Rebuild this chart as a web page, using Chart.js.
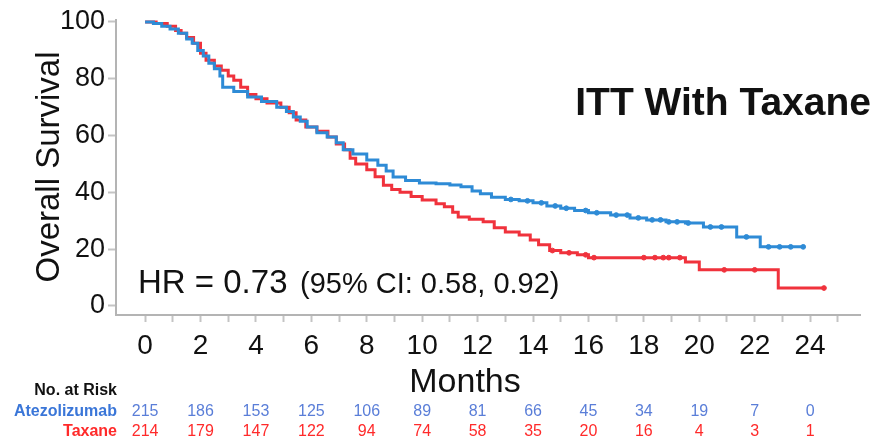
<!DOCTYPE html>
<html>
<head>
<meta charset="utf-8">
<script src="https://cdn.jsdelivr.net/npm/chart.js@4.4.1/dist/chart.umd.min.js"></script>
<style>
  body { margin: 0; background: #ffffff; }
  #wrap { width: 877px; height: 438px; }
</style>
</head>
<body>
<div id="wrap"><canvas id="graficoSobrevida" width="877" height="438"></canvas></div>
<script>
// Kaplan-Meier steps (months, % surviving)
var atezoMonths = [0, 0.3, 0.6, 0.9, 1.2, 1.5, 1.7, 1.9, 2.1, 2.3, 2.5, 2.7, 2.8, 3.2, 3.7, 4.2, 4.75, 5.1, 5.35, 5.6, 5.85, 6.2, 6.57, 6.9, 7.15, 7.5, 8.0, 8.4, 8.7, 8.95, 9.4, 9.9, 10.5, 11.0, 11.4, 11.8, 12.1, 12.5, 13.0, 13.5, 14.0, 14.5, 15.0, 15.5, 16.0, 16.8, 17.5, 18.1, 18.8, 19.5, 20.15, 21.35, 22.2, 23.75];
var atezoSurv = [100, 99.5, 98.5, 97.5, 96, 94, 92.5, 90, 88, 85.5, 83.5, 81, 77, 75.5, 73.6, 72, 70, 68.5, 66.5, 65, 63, 61, 59.5, 57.5, 55, 53.5, 51.4, 49.5, 47.5, 45.4, 44.2, 43.3, 43, 42.6, 42, 40.5, 39.5, 38.3, 37.5, 37, 36.3, 35.2, 34.4, 33.6, 32.8, 32, 31, 30.3, 29.6, 29.2, 27.8, 24.3, 20.8, 20.8];
var atezoCensored = [13.2, 13.8, 14.3, 14.8, 15.2, 15.9, 16.3, 17.0, 17.4, 17.8, 18.3, 18.6, 18.9, 19.2, 19.6, 20.4, 20.8, 21.7, 22.5, 22.9, 23.3, 23.75];

var taxaneMonths = [0, 0.4, 0.8, 1.1, 1.3, 1.5, 1.75, 2.0, 2.2, 2.5, 2.75, 3.0, 3.2, 3.45, 3.7, 4.0, 4.4, 4.9, 5.2, 5.45, 5.8, 6.2, 6.6, 6.9, 7.2, 7.4, 7.6, 8.0, 8.3, 8.6, 8.9, 9.2, 9.6, 10.0, 10.5, 10.8, 11.1, 11.3, 11.7, 12.2, 12.6, 13.0, 13.5, 13.9, 14.2, 14.6, 15.0, 15.6, 16.0, 19.5, 20.0, 22.85, 24.5];
var taxaneSurv = [100, 99.5, 98.5, 97, 96, 94.5, 92.5, 89, 86.5, 84.5, 83, 81, 79.5, 77, 74.5, 73, 71.5, 70, 68, 65.5, 63, 61.5, 59.5, 57, 55, 52, 50, 48, 45.5, 42.5, 41, 40, 38.5, 37.3, 36, 34.9, 33, 31.3, 30.5, 29.6, 27.5, 26, 25, 23.2, 21.5, 19.5, 18.7, 18, 17, 15.5, 12.7, 6.3, 6.3];
var taxaneCensored = [14.7, 15.3, 15.9, 16.2, 18.0, 18.4, 18.7, 18.9, 19.3, 20.9, 22.0, 24.5];

var xTickLabels = ['0', '2', '4', '6', '8', '10', '12', '14', '16', '18', '20', '22', '24'];
var yTickValues = [0, 20, 40, 60, 80, 100];

var riskMonths = [0, 2, 4, 6, 8, 10, 12, 14, 16, 18, 20, 22, 24];
var riskAtezo = [215, 186, 153, 125, 106, 89, 81, 66, 45, 34, 19, 7, 0];
var riskTaxane = [214, 179, 147, 122, 94, 74, 58, 35, 20, 16, 4, 3, 1];

var corAtezo = '#2e8bd6';
var corTaxane = '#f0323c';

function montarPontos(meses, valores) {
    var pontos = [];
    for (var i = 0; i < meses.length; i++) {
        pontos.push({ x: meses[i], y: valores[i] });
    }
    return pontos;
}

// value of the step curve at a censoring time
function valorNaCurva(meses, valores, t) {
    var v = valores[0];
    for (var i = 0; i < meses.length; i++) {
        if (meses[i] <= t) v = valores[i];
    }
    return v;
}

function montarCensuras(meses, valores, censuras) {
    var pontos = [];
    for (var i = 0; i < censuras.length; i++) {
        pontos.push({ x: censuras[i], y: valorNaCurva(meses, valores, censuras[i]) });
    }
    return pontos;
}

var fonte = '"Liberation Sans", Arial, sans-serif';

var textosPlugin = {
    id: 'textos',
    afterDraw: function (chart) {
        var ctx = chart.ctx;
        var xs = chart.scales.x;
        ctx.save();
        ctx.fillStyle = '#111111';
        ctx.textBaseline = 'alphabetic';

        ctx.font = 'bold 39px ' + fonte;
        ctx.textAlign = 'right';
        ctx.fillText('ITT With Taxane', 871, 115);

        ctx.textAlign = 'left';
        ctx.font = '33px ' + fonte;
        ctx.fillText('HR = 0.73', 138, 293);
        ctx.font = '29px ' + fonte;
        ctx.fillText('(95% CI: 0.58, 0.92)', 300, 293);

        ctx.textAlign = 'center';
        ctx.font = '34px ' + fonte;
        ctx.fillText('Months', 465, 392);

        ctx.save();
        ctx.translate(59, 167);
        ctx.rotate(-Math.PI / 2);
        ctx.font = '33px ' + fonte;
        ctx.fillText('Overall Survival', 0, 0);
        ctx.restore();

        ctx.font = 'bold 16px ' + fonte;
        ctx.textAlign = 'right';
        ctx.fillStyle = '#111111';
        ctx.fillText('No. at Risk', 117, 395);
        ctx.fillStyle = '#3a76d8';
        ctx.fillText('Atezolizumab', 117, 416);
        ctx.fillStyle = '#ff2a2a';
        ctx.fillText('Taxane', 117, 436);

        ctx.font = '16px ' + fonte;
        ctx.textAlign = 'center';
        for (var i = 0; i < riskMonths.length; i++) {
            var px = xs.getPixelForValue(riskMonths[i]);
            ctx.fillStyle = '#5a7ed8';
            ctx.fillText(String(riskAtezo[i]), px, 416);
            ctx.fillStyle = '#ff2a2a';
            ctx.fillText(String(riskTaxane[i]), px, 436);
        }
        ctx.restore();
    }
};

var ctx = document.getElementById('graficoSobrevida');
var grafico = new Chart(ctx, {
    type: 'line',
    data: {
        datasets: [
            {
                label: 'Atezolizumab',
                data: montarPontos(atezoMonths, atezoSurv),
                borderColor: corAtezo,
                borderWidth: 3,
                stepped: true,
                pointRadius: 0,
                fill: false
            },
            {
                label: 'Taxane',
                data: montarPontos(taxaneMonths, taxaneSurv),
                borderColor: corTaxane,
                borderWidth: 3,
                stepped: true,
                pointRadius: 0,
                fill: false
            },
            {
                label: 'Atezolizumab censored',
                data: montarCensuras(atezoMonths, atezoSurv, atezoCensored),
                showLine: false,
                pointRadius: 2.4,
                pointBackgroundColor: corAtezo,
                pointBorderColor: corAtezo
            },
            {
                label: 'Taxane censored',
                data: montarCensuras(taxaneMonths, taxaneSurv, taxaneCensored),
                showLine: false,
                pointRadius: 2.4,
                pointBackgroundColor: corTaxane,
                pointBorderColor: corTaxane
            }
        ]
    },
    options: {
        responsive: false,
        animation: false,
        layout: { padding: { top: 20, right: 17, left: 0, bottom: 0 } },
        plugins: {
            legend: { display: false },
            tooltip: { enabled: false }
        },
        scales: {
            x: {
                type: 'linear',
                min: -1.05,
                max: 25.8,
                afterFit: function (scale) { scale.height = 123; },
                afterBuildTicks: function (scale) {
                    var t = [];
                    for (var m = 0; m <= 25; m++) t.push({ value: m });
                    scale.ticks = t;
                },
                border: { color: '#b4b4b4', width: 2 },
                grid: { drawOnChartArea: false, drawTicks: true, tickLength: 7, tickColor: '#c4c4c4', tickWidth: 2 },
                ticks: {
                    autoSkip: false,
                    maxRotation: 0,
                    padding: 7,
                    color: '#111111',
                    font: { family: fonte, size: 28 },
                    callback: function (value) {
                        if (value % 2 !== 0) return '';
                        return xTickLabels[value / 2];
                    }
                }
            },
            y: {
                type: 'linear',
                min: -3.2,
                max: 100.7,
                afterFit: function (scale) { scale.width = 116; },
                afterBuildTicks: function (scale) {
                    scale.ticks = yTickValues.map(function (v) { return { value: v }; });
                },
                border: { color: '#b4b4b4', width: 2 },
                grid: { drawOnChartArea: false, drawTicks: true, tickLength: 8, tickColor: '#c4c4c4', tickWidth: 2 },
                ticks: {
                    padding: 3,
                    color: '#111111',
                    font: { family: fonte, size: 27 }
                }
            }
        }
    },
    plugins: [textosPlugin]
});
</script>
</body>
</html>
